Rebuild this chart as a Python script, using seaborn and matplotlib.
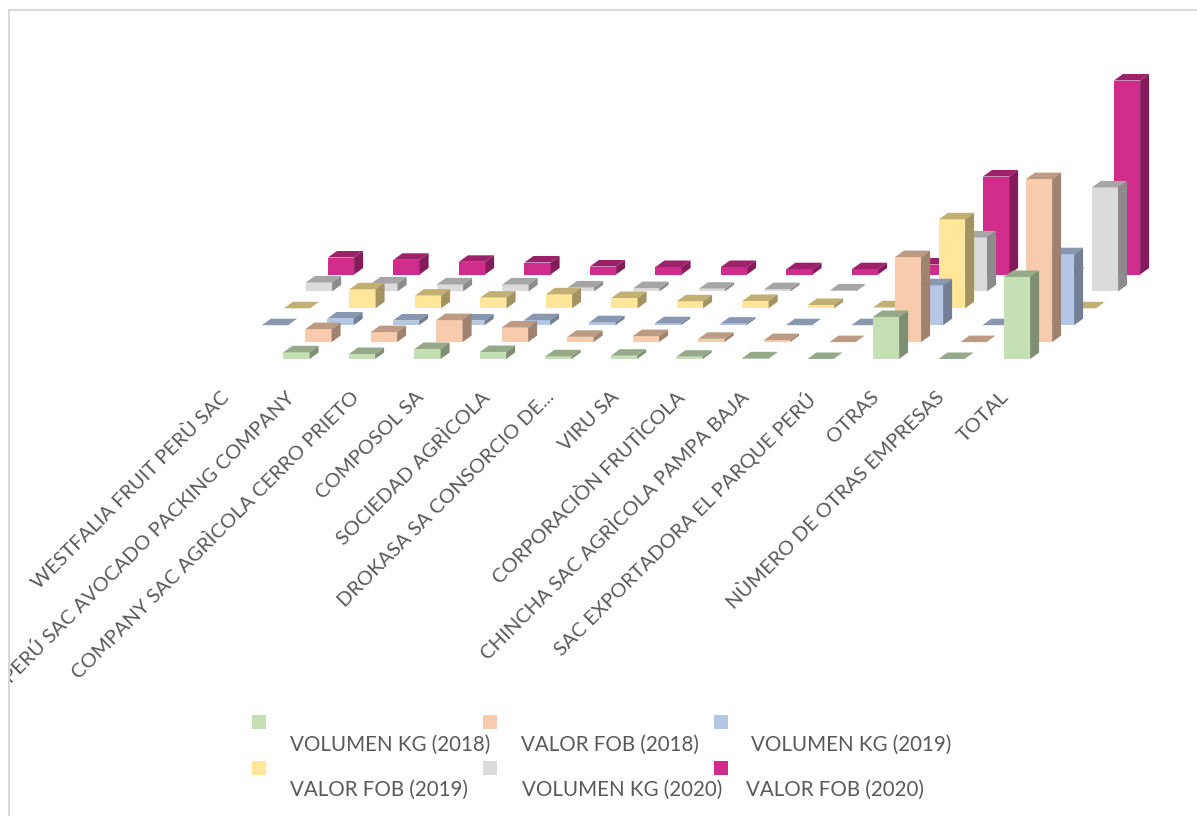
import matplotlib
matplotlib.use('Agg')
import numpy as np
import pandas as pd
import seaborn as sns
import matplotlib.pyplot as plt
from matplotlib.lines import Line2D
from matplotlib.patches import Polygon, Rectangle
from matplotlib.transforms import Bbox

categories = ['WESTFALIA FRUIT PERÙ SAC', 'PERÚ SAC AVOCADO PACKING COMPANY',
              'COMPANY SAC AGRÌCOLA CERRO PRIETO', 'COMPOSOL SA', 'SOCIEDAD AGRÌCOLA',
              'DROKASA SA CONSORCIO DE...', 'VIRU SA', 'CORPORACIÒN FRUTÌCOLA',
              'CHINCHA SAC AGRÌCOLA PAMPA BAJA', 'SAC EXPORTADORA EL PARQUE PERÚ',
              'OTRAS', 'NÙMERO DE OTRAS EMPRESAS', 'TOTAL']

series = ['VOLUMEN KG (2018)', 'VALOR FOB (2018)', 'VOLUMEN KG (2019)',
          'VALOR FOB (2019)', 'VOLUMEN KG (2020)', 'VALOR FOB (2020)']

# no scale on the chart, values are read as bar heights
vol_2018 = [np.nan, 6.7, 5, 10, 7, 2.7, 3.3, 2.3, 0.7, 0, 42, 0, 82]
fob_2018 = [np.nan, 13, 10, 22, 14.7, 5.3, 6, 3.3, 2, 0, 85, 0, 163]
vol_2019 = [0, 6.7, 4.7, 4.7, 5, 3, 2, 1.5, 0, 0, 40, 0, 71]
fob_2019 = [0, 19, 12.7, 10.7, 14, 10.3, 7, 7.3, 3.3, 1, 89, 0, 0]
vol_2020 = [9, 8, 7, 7, 4, 3.3, 2.7, 2.3, 1, 0.5, 54, 0, 104]
fob_2020 = [17, 14.7, 12.7, 12, 8, 7.5, 7.5, 5.3, 5.3, 10, 98, 1, 194]
values = [vol_2018, fob_2018, vol_2019, fob_2019, vol_2020, fob_2020]

colors = ['#C5E0B4', '#F8CBAD', '#B4C7E7', '#FFE699', '#DBDBDB', '#CF2C8C']

W, H = 1197, 816
GROUND = 359
STEP = 65.5
FIRST = 231
BAR = 0.4
ROW_X = 22 / STEP
ROW_Y = 16.9
DEPTH_X = 9 / STEP
DEPTH_Y = 6.5
LABEL_SHIFT = 11 / STEP
LABEL_SPREAD = 0.9924
TEXT = '#595959'

sns.set_theme(style='white')
plt.rcParams['font.family'] = ['Lato', 'DejaVu Sans']

fig = plt.figure(figsize=(W / 100, H / 100), dpi=100)
ax = fig.add_axes([0, 1 - GROUND / H, 1, GROUND / H])
ax.patch.set_alpha(0)


def shade(color, k):
    return tuple(c * k for c in matplotlib.colors.to_rgb(color))


# back row first so the front rows cover it
for row in range(len(series) - 1, -1, -1):
    df = pd.DataFrame({'x': np.arange(len(categories)) + row * ROW_X, 'v': values[row]}).dropna()
    base = row * ROW_Y
    sns.barplot(data=df, x='x', y='v', native_scale=True, color=colors[row], saturation=1,
                width=BAR, bottom=base, errorbar=None, linewidth=0, ax=ax, zorder=10 * (6 - row))
    for x, v in zip(df['x'], df['v']):
        l, r = x - BAR / 2, x + BAR / 2
        top = base + v
        ax.add_patch(Polygon([(l, top), (r, top), (r + DEPTH_X, top + DEPTH_Y), (l + DEPTH_X, top + DEPTH_Y)],
                             fc=shade(colors[row], 0.76), ec='none', zorder=10 * (6 - row)))
        if v > 0:
            ax.add_patch(Polygon([(r, base), (r + DEPTH_X, base + DEPTH_Y), (r + DEPTH_X, top + DEPTH_Y), (r, top)],
                                 fc=shade(colors[row], 0.64), ec='none', zorder=10 * (6 - row)))

ax.set_xlim(-FIRST / STEP, (W - FIRST) / STEP)
ax.set_ylim(0, GROUND)
ax.set_yticks([])
ax.set_ylabel('')
ax.set_xlabel('')
ax.set_xticks(np.arange(len(categories)) * LABEL_SPREAD - LABEL_SHIFT)
ax.set_xticklabels(categories, rotation=45, ha='right', rotation_mode='anchor', fontsize=14.5, color=TEXT)
ax.tick_params(axis='x', length=0, pad=21)
sns.despine(ax=ax, left=True, bottom=True)

# the frame cuts off the long label on the left
clip = Bbox([[9, 0], [W, H]])
for t in ax.get_xticklabels():
    t.set_clip_box(clip)
    t.set_clip_on(True)

# chart frame, only left and top edges are in the picture
frame_x = 8.5 / W
frame_y = 1 - 10 / H
fig.add_artist(Line2D([frame_x, frame_x], [0, frame_y], color='#D9D9D9', lw=1.5))
fig.add_artist(Line2D([frame_x, 1], [frame_y, frame_y], color='#D9D9D9', lw=1.5))

# legend swatches sit above and left of their text
legend_swatch = [(252, 715), (483, 715), (714, 715), (252, 761), (483, 761), (714, 761)]
legend_text = [(290, 744.5), (521, 744.5), (751, 744.5), (290, 789.5), (522, 789.5), (746, 789.5)]
for name, c, (sx, sy), (tx, ty) in zip(series, colors, legend_swatch, legend_text):
    fig.add_artist(Rectangle((sx / W, 1 - (sy + 14) / H), 14 / W, 14 / H, transform=fig.transFigure, fc=c, ec='none'))
    fig.text(tx / W, 1 - ty / H, name, fontsize=14.8, color=TEXT, va='center', ha='left')

fig.savefig('out.png', dpi=100)
